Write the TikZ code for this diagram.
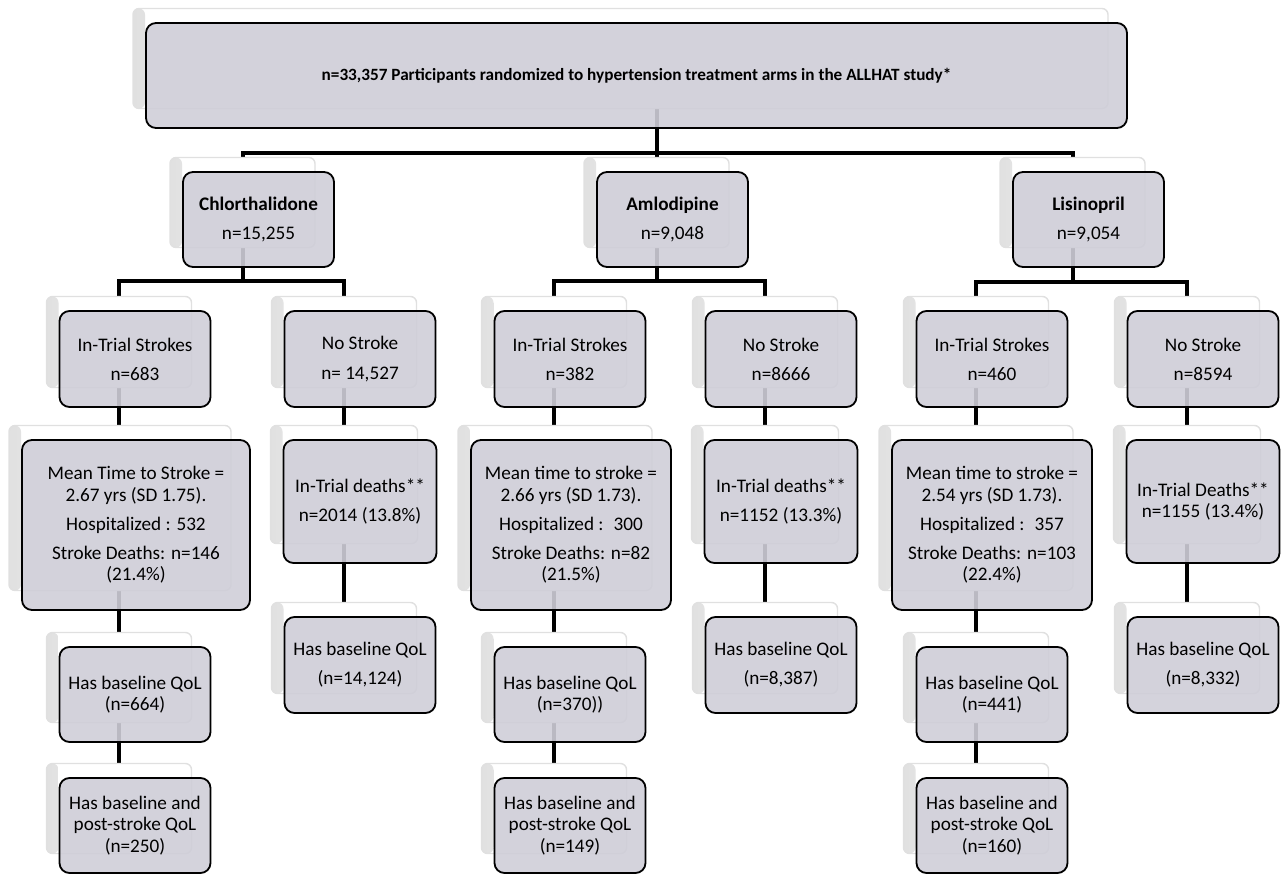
\documentclass[tikz,border=0pt]{standalone}
\usepackage{fontspec}
\setmainfont{Carlito}
\usepackage{tikz}
\definecolor{boxgray}{RGB}{207,206,216}
\pgfdeclarelayer{lines}
\pgfdeclarelayer{shade}
\pgfsetlayers{lines,shade,main}
\tikzset{
 gbox/.style
  = {rectangle, draw=black, line width=0.9pt, fill=boxgray, fill opacity=0.9,
     text opacity=1, rounded corners=5pt, align=center, inner sep=2pt,
     font=\fontsize{9.6}{10.6}\selectfont},
 sbox/.style
  = {rectangle, draw=black!12, line width=0.7pt, fill=white, rounded corners=3pt,
     path picture={\fill[left color=black!12, right color=white]
       (path picture bounding box.south west) rectangle
       ([xshift=6pt]path picture bounding box.north west);}},
 ll/.style
  = {draw, line width=2pt},
}
% name, centre (px), width (px), height (px), text
\newcommand{\qolbox}[5]{%
  \begin{pgfonlayer}{shade}
    \node[sbox, minimum width=#3*0.5pt-3pt, minimum height=#4*0.5pt-2.5pt]
      (#1-s) at ([xshift=-8pt,yshift=8.5pt]#2) {};
  \end{pgfonlayer}
  \node[gbox, minimum width=#3*0.5pt, minimum height=#4*0.5pt] (#1) at (#2) {#5};
}

\begin{document}
\begin{tikzpicture}[x=0.5pt,y=-0.5pt]
  \useasboundingbox (0,0) rectangle (1287,874);

  \qolbox{top}{636.5,75.5}{981}{105}{\fontsize{8.6}{10}\selectfont\bfseries n=33,357 Participants randomized to hypertension treatment arms in the ALLHAT study*}

  % treatment arms
  \qolbox{chl}{258.5,219.5}{151}{95}{\textbf{Chlorthalidone}\\[4pt]n=15,255}
  \qolbox{aml}{672.5,219.5}{151}{95}{\textbf{Amlodipine}\\[4pt]n=9,048}
  \qolbox{lis}{1088.5,219.5}{151}{95}{\textbf{Lisinopril}\\[4pt]n=9,054}

  % strokes / no strokes
  \qolbox{chl-it}{135,359}{151}{96}{In-Trial Strokes\\[4pt]n=683}
  \qolbox{chl-ns}{360,359}{151}{96}{No Stroke\\[4pt]n= 14,527}
  \qolbox{aml-it}{570,359}{151}{96}{In-Trial Strokes\\[4pt]n=382}
  \qolbox{aml-ns}{781,359}{151}{96}{No Stroke\\[4pt]n=8666}
  \qolbox{lis-it}{992,359}{151}{96}{In-Trial Strokes\\[4pt]n=460}
  \qolbox{lis-ns}{1203,359}{151}{96}{No Stroke\\[4pt]n=8594}

  \qolbox{chl-mean}{136,525}{228}{170}{Mean Time to Stroke =\\2.67 yrs (SD 1.75).\\[4pt]Hospitalized : 532\\[4pt]Stroke Deaths: n=146\\(21.4\%)}
  \qolbox{aml-mean}{571,525}{200}{170}{Mean time to stroke =\\2.66 yrs (SD 1.73).\\[4pt]Hospitalized :~ 300\\[4pt]Stroke Deaths: n=82\\(21.5\%)}
  \qolbox{lis-mean}{992,525}{200}{170}{Mean time to stroke =\\2.54 yrs (SD 1.73).\\[4pt]Hospitalized :~ 357\\[4pt]Stroke Deaths: n=103\\(22.4\%)}

  \qolbox{chl-dth}{360,501.5}{153}{123}{In-Trial deaths**\\[4pt]n=2014 (13.8\%)}
  \qolbox{aml-dth}{781,501.5}{153}{123}{In-Trial deaths**\\[4pt]n=1152 (13.3\%)}
  \qolbox{lis-dth}{1203,501.5}{153}{123}{In-Trial Deaths**\\n=1155 (13.4\%)}

  % baseline QoL
  \qolbox{chl-nqol}{360,665}{151}{96}{Has baseline QoL\\[4pt](n=14,124)}
  \qolbox{aml-nqol}{781,665}{151}{96}{Has baseline QoL\\[4pt](n=8,387)}
  \qolbox{lis-nqol}{1203,665}{151}{96}{Has baseline QoL\\[4pt](n=8,332)}

  \qolbox{chl-sqol}{135,694.5}{151}{95}{Has baseline QoL\\(n=664)}
  \qolbox{aml-sqol}{570,694.5}{151}{95}{Has baseline QoL\\(n=370))}
  \qolbox{lis-sqol}{992,694.5}{151}{95}{Has baseline QoL\\(n=441)}

  \qolbox{chl-post}{135,825.5}{151}{95}{Has baseline and\\post-stroke QoL\\(n=250)}
  \qolbox{aml-post}{570,825.5}{151}{95}{Has baseline and\\post-stroke QoL\\(n=149)}
  \qolbox{lis-post}{992,825.5}{151}{95}{Has baseline and\\post-stroke QoL\\(n=160)}

  \coordinate (fork) at (656.5,153);
  \coordinate (chl-fork) at (242.5,281);
  \coordinate (aml-fork) at (656.5,281);
  \coordinate (lis-fork) at (1072.5,282);

  \begin{pgfonlayer}{lines}
    \path [ll] (top-s.south -| aml-s.north) -- (aml-s.north);
    \path [ll] (chl-s.north) |- (fork) -| (lis-s.north);
    \foreach \a in {chl,aml,lis} {
      \path [ll] (\a-s.south) -- (\a-fork);
      \path [ll] (\a-it-s.north) |- (\a-fork) -| (\a-ns-s.north);
      \path [ll] (\a-it-s.south) -- (\a-it-s.south |- \a-mean-s.north);
      \path [ll] (\a-mean-s.south -| \a-sqol-s.north) -- (\a-sqol-s.north);
      \path [ll] (\a-sqol-s.south) -- (\a-sqol-s.south |- \a-post-s.north);
      \path [ll] (\a-ns-s.south) -- (\a-ns-s.south |- \a-dth-s.north);
      \path [ll] (\a-dth-s.south) -- (\a-dth-s.south |- \a-nqol-s.north);
    }
  \end{pgfonlayer}
\end{tikzpicture}
\end{document}
